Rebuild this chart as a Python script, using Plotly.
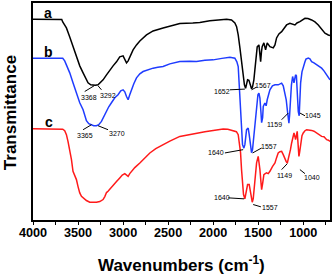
import plotly.graph_objects as go

# ---- data (transmittance in arbitrary units) ----
wn_a = [4000, 3814, 3681, 3670, 3629, 3592, 3556, 3518, 3481, 3444, 3414, 3389, 3359, 3333, 3309, 3278,
        3253, 3222, 3184, 3148, 3111, 3073, 3037, 3000, 2981, 2962, 2944, 2926, 2889, 2851, 2814, 2740,
        2667, 2556, 2481, 2370, 2226, 2148, 2037, 1926, 1851, 1796, 1759, 1740, 1722, 1703, 1685, 1670,
        1653, 1640, 1629, 1618, 1603, 1592, 1574, 1563, 1548, 1537, 1526, 1511, 1492, 1481, 1473, 1464,
        1456, 1437, 1418, 1400, 1370, 1333, 1314, 1296, 1270, 1240, 1215, 1185, 1148, 1126, 1092, 1070,
        1037, 981, 948, 907, 870, 833, 796, 759, 722, 703]
t_a = [200.7, 200.7, 200.5, 198, 192, 183, 173, 163, 154, 147, 142, 137, 135, 134.5, 134.5, 135,
       137, 140, 145, 150, 154, 158, 163, 164, 161, 157, 159, 163, 170, 175, 179, 185,
       189, 192, 194, 196.5, 197, 197.5, 199.3, 200, 200.7, 200, 197, 193.3, 185, 172, 160, 145,
       135, 131.5, 136, 140, 139.5, 135, 131, 133, 140, 150, 160, 173, 175, 168, 158.3, 168,
       173.3, 177, 170, 177, 173.3, 172, 175, 182, 186, 188.3, 192, 195, 196.7, 196, 195, 197,
       198.3, 201.7, 201.5, 200, 198, 195, 191, 186.7, 185, 184.5]

wn_b = [4000, 3814, 3670, 3648, 3629, 3592, 3556, 3518, 3481, 3444, 3426, 3407, 3381, 3351, 3326, 3296,
        3270, 3240, 3214, 3181, 3159, 3129, 3092, 3056, 3026, 3000, 2981, 2962, 2944, 2926, 2908, 2881,
        2851, 2814, 2778, 2726, 2667, 2614, 2556, 2481, 2370, 2259, 2185, 2092, 2000, 1903, 1814, 1759,
        1737, 1722, 1711, 1703, 1692, 1685, 1674, 1659, 1648, 1629, 1611, 1600, 1592, 1574, 1563, 1556,
        1543, 1526, 1511, 1503, 1492, 1481, 1470, 1462, 1451, 1444, 1426, 1412, 1400, 1370, 1342, 1314,
        1278, 1259, 1240, 1222, 1203, 1189, 1177, 1166, 1159, 1151, 1142, 1131, 1118, 1109, 1103, 1092,
        1085, 1076, 1067, 1055, 1045, 1037, 1029, 1014, 1000, 981, 970, 944, 926, 907, 881, 851,
        826, 796, 770, 740, 720, 703]
t_b = [161.7, 162, 161.5, 159, 155, 147, 137, 127, 117, 110, 105, 99, 96, 95, 94, 94,
       95, 98.3, 103, 110, 113, 117, 122, 125, 129, 130, 128, 123.3, 120, 125, 130, 136,
       142, 146, 148.3, 150, 151.7, 152.5, 153.3, 156, 158.3, 158.5, 158.3, 159.5, 160, 161.5, 162.7, 161.7,
       158, 153.3, 135, 120, 105, 85, 75, 71.5, 75, 90, 91.7, 85, 77, 67, 70, 77,
       90, 103.3, 115, 125, 126.7, 121.7, 108, 97, 102, 113.3, 116.7, 114, 120, 130, 134, 135,
       135, 136, 136.7, 134, 126.7, 120, 110, 100, 96.5, 105, 120, 135, 143.3, 140, 137, 142,
       145, 144, 120, 108, 104, 120, 137, 148, 153.3, 158, 160.7, 161.7, 161, 158.3, 157, 155,
       154, 151.7, 149, 145, 142, 140]

wn_c = [4000, 3814, 3703, 3670, 3648, 3629, 3611, 3592, 3573, 3556, 3537, 3518, 3500, 3481, 3462, 3444,
        3407, 3370, 3333, 3296, 3259, 3222, 3203, 3184, 3167, 3148, 3111, 3073, 3037, 3009, 2981, 2962,
        2944, 2926, 2908, 2870, 2814, 2759, 2703, 2637, 2556, 2481, 2370, 2281, 2185, 2092, 2000, 1889,
        1837, 1778, 1742, 1722, 1709, 1696, 1685, 1674, 1663, 1648, 1637, 1618, 1600, 1590, 1581, 1566,
        1555, 1544, 1531, 1518, 1500, 1490, 1481, 1470, 1462, 1451, 1437, 1422, 1407, 1389, 1370, 1342,
        1314, 1296, 1278, 1259, 1240, 1222, 1203, 1189, 1177, 1166, 1155, 1142, 1129, 1116, 1103, 1092,
        1085, 1076, 1067, 1057, 1048, 1039, 1029, 1014, 1000, 981, 962, 937, 907, 881, 851, 826,
        796, 770, 740, 720, 703]
t_c = [91, 91, 91, 90.5, 89, 85, 78, 70, 60, 48.3, 44, 40, 33, 26.7, 23.3, 21.7,
       19, 17.3, 17, 17.3, 18, 20, 23, 27, 28.3, 30.5, 34, 38, 41.7, 44.5, 46, 44.5,
       43.3, 46, 48.3, 52, 56.7, 62, 66.7, 71, 75, 78.5, 83.3, 85, 86.7, 88, 89.3, 90.7,
       90.5, 89.3, 88, 85, 78, 67, 50, 33.3, 25, 20.7, 25, 35, 35, 30, 23.3, 17.3,
       21, 33.3, 48, 56.7, 63.3, 58, 50, 38, 30, 36, 45, 46, 46.7, 46, 48.3, 53,
       56.7, 62, 66.7, 68, 68.3, 65, 60, 58, 56.5, 60, 63.3, 70, 76.7, 83, 86.7, 83,
       80, 84, 88.3, 75, 63.3, 68, 76.7, 84, 86.7, 89, 90, 90, 89.3, 88.5, 86.7, 86,
       83.3, 83, 80, 79.5, 78.3]

x_ticks = [4000, 3500, 3000, 2500, 2000, 1500, 1000]
curve_labels = ["a", "b", "c"]
x_title = "Wavenumbers (cm<sup>-1</sup>)"
y_title = "Transmittance"

# peak labels: (text, text_x, text_y, line x0, y0, x1, y1)
peak_labels = [
    ("3368", 3380, 122, 3426, 128.3, 3322, 134),
    ("3292", 3170, 124, 3278, 134, 3240, 130),
    ("3365", 3426, 84, 3444, 90, 3351, 95),
    ("3270", 3064, 86.5, 3278, 94, 3167, 90),
    ("1652", 1907, 128.3, 1814, 130, 1648, 130.7),
    ("1567", 1444, 134, 1574, 130, 1518, 132.7),
    ("1159", 1314, 95, 1240, 100, 1166, 106.7),
    ("1045", 889, 104, 1037, 106.7, 981, 104),
    ("1640", 1970, 66.7, 1870, 66.7, 1667, 70),
    ("1557", 1378, 73.3, 1562, 66.7, 1462, 71.7),
    ("1149", 1203, 44.3, 1240, 50, 1177, 56),
    ("1040", 900, 41.7, 1037, 50, 981, 46),
    ("1640", 1907, 21.7, 1833, 21.7, 1656, 20.7),
    ("1557", 1370, 11.7, 1556, 15, 1470, 12.7),
]

FONT = "Liberation Sans, Arial, sans-serif"

fig = go.Figure()
for wn, t, col in [(wn_a, t_a, "#000000"), (wn_b, t_b, "#1f3cff"), (wn_c, t_c, "#ff1a1a")]:
    fig.add_trace(go.Scatter(x=wn, y=t, mode="lines", line=dict(color=col, width=1.5),
                             showlegend=False, hoverinfo="skip"))

annotations = []
for lab, tx, ty in zip(curve_labels, [3833, 3833, 3826], [206.7, 168.3, 97.3]):
    annotations.append(dict(x=tx, y=ty, text=lab, showarrow=False,
                            font=dict(family=FONT, size=14, color="black", weight="bold")))
shapes = []
for txt, tx, ty, x0, y0, x1, y1 in peak_labels:
    annotations.append(dict(x=tx, y=ty, text=txt, showarrow=False,
                            font=dict(family=FONT, size=7, color="black")))
    shapes.append(dict(type="line", x0=x0, y0=y0, x1=x1, y1=y1,
                       line=dict(color="black", width=1)))

# axis titles as paper annotations
annotations.append(dict(xref="paper", yref="paper", x=0.5, y=-0.203, text=x_title,
                        showarrow=False, xanchor="center", yanchor="middle",
                        font=dict(family=FONT, size=17, color="black", weight="bold")))
annotations.append(dict(xref="paper", yref="paper", x=-0.077, y=0.493, text=y_title,
                        showarrow=False, xanchor="center", yanchor="middle", textangle=-90,
                        font=dict(family=FONT, size=17, color="black", weight="bold")))

fig.update_layout(
    width=333, height=276,
    margin=dict(l=33, r=3, t=3, b=56, autoexpand=False),
    plot_bgcolor="white", paper_bgcolor="white",
    annotations=annotations, shapes=shapes,
    xaxis=dict(range=[4000, 703], tickvals=x_ticks, ticks="outside", ticklen=3, tickwidth=1.3,
               tickcolor="black", showgrid=False, zeroline=False, automargin=False,
               ticklabelstandoff=-3,
               showline=True, linecolor="black", linewidth=1.5, mirror=True,
               minor=dict(dtick=250, tick0=0, ticks="outside", ticklen=3, tickwidth=1.3,
                          tickcolor="black", showgrid=False),
               tickfont=dict(family=FONT, size=12.7, color="black", weight="bold")),
    yaxis=dict(range=[-0.5, 217], showticklabels=False, ticks="", showgrid=False, zeroline=False,
               automargin=False,
               showline=True, linecolor="black", linewidth=1.5, mirror=True),
)

fig.write_html("out.html", config={"displayModeBar": False},
               post_script="document.body.style.margin='0';document.body.style.overflow='hidden';")
